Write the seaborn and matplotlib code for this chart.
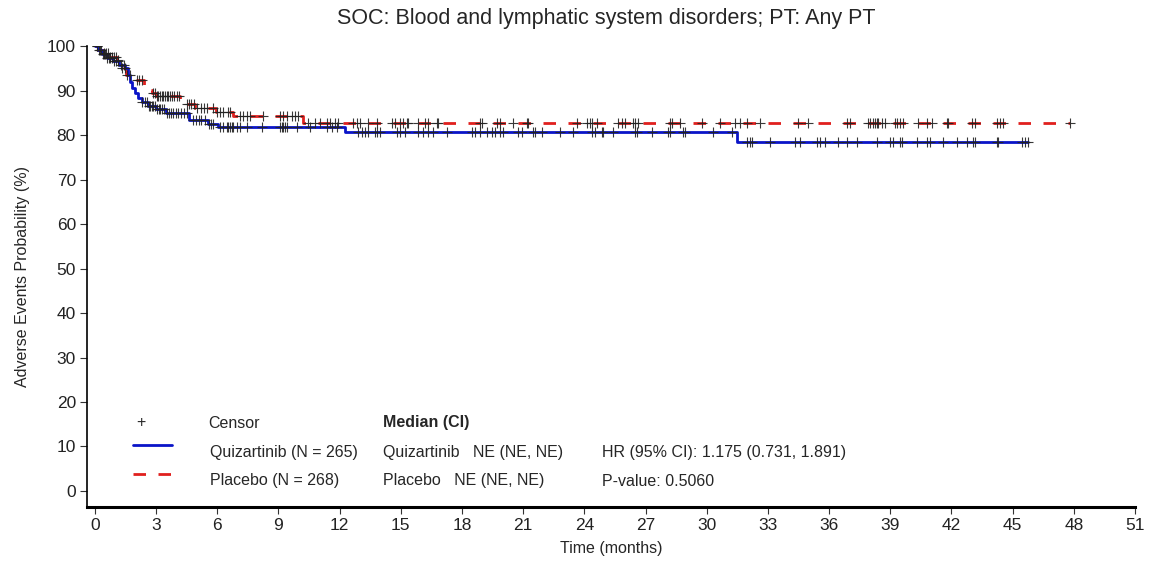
import numpy as np
import pandas as pd
import matplotlib
matplotlib.use("Agg")
import matplotlib.pyplot as plt
import seaborn as sns
from matplotlib.lines import Line2D

sns.set_style("white")
plt.rcParams['font.family'] = ['Liberation Sans', 'DejaVu Sans']

# ---------------- data ----------------
title = "SOC: Blood and lymphatic system disorders; PT: Any PT"
arm_names = ["Quizartinib", "Placebo"]
arm_n = [265, 268]

# Quizartinib step curve (time in months, probability %)
quiz_t = [0, 0.15, 0.35, 0.6, 0.9, 1.2, 1.45, 1.6, 1.7, 1.8, 1.95, 2.1, 2.3, 2.6,
          3.0, 3.5, 4.6, 5.55, 6.05, 12.25, 31.5]
quiz_v = [100, 99.2, 98.2, 97.4, 96.6, 95.8, 95.0, 93.4, 92.0, 90.6, 89.4, 88.3, 87.4, 86.6,
          85.8, 85.0, 83.5, 82.5, 81.9, 80.7, 78.5]
quiz_end = 45.76

# Placebo step curve
plac_t = [0, 0.15, 0.4, 0.7, 1.1, 1.3, 1.5, 1.8, 2.4, 2.6, 2.8, 3.0, 4.15, 4.9, 5.95, 6.75, 10.2]
plac_v = [100, 99.2, 98.4, 97.6, 96.8, 95.0, 93.6, 92.4, 91.2, 90.2, 89.4, 88.8, 87.0, 86.2,
          85.2, 84.2, 82.8]
plac_end = 47.82

# censor times
quiz_cens = [0.1, 0.2, 0.3, 0.4, 0.45, 0.5, 0.6, 0.7, 0.75, 0.85, 0.95, 1.05, 1.15, 1.3, 1.4,
             2.3, 2.45, 2.55, 2.65, 2.7, 2.8, 2.85, 2.95, 3.05, 3.15, 3.2, 3.3, 3.4,
             3.55, 3.65, 3.75, 3.85, 3.95, 4.05, 4.2, 4.35, 4.5, 4.8, 4.95, 5.1, 5.2, 5.4,
             5.6, 5.7, 5.8,
             6.13, 6.28, 6.47, 6.52, 6.62, 6.72, 6.77, 6.96, 7.11, 7.45, 8.19, 9.07, 9.17,
             9.22, 9.32, 9.42, 9.91, 10.54, 11.38, 11.62, 11.87,
             12.9, 13.1, 13.24, 13.39, 13.73, 13.83, 13.98, 14.81, 14.96, 15.2, 15.84, 16.09,
             16.33, 16.57, 17.26, 18.49, 18.64, 18.88, 19.22, 19.47, 19.62, 19.86, 20.0,
             20.75, 20.94, 21.48, 21.58, 21.92, 22.81, 23.44, 24.37, 24.52, 24.86, 24.91,
             25.4, 26.48, 26.58, 27.32, 28.1, 28.2, 28.84, 28.94, 30.31, 31.24,
             31.98, 32.12, 32.22, 33.1, 34.33, 34.58, 35.41, 35.56, 35.8, 36.44, 36.88,
             37.37, 38.35, 38.99, 39.14, 39.48, 39.58, 40.31, 40.8, 40.95, 41.59, 42.28,
             42.77, 43.06, 43.16, 44.24, 44.29, 45.46, 45.61, 45.76]
plac_cens = [0.1, 0.25, 0.45, 0.55, 0.65, 0.75, 0.85, 0.95, 1.05, 1.15, 1.35, 1.45, 1.55, 1.7,
             2.05, 2.15, 2.3, 2.85, 2.95, 3.05, 3.1, 3.2, 3.3, 3.35, 3.45, 3.55, 3.6, 3.7,
             3.8, 3.9, 4.0, 4.1, 4.5, 4.6, 4.7, 4.85, 5.0, 5.2, 5.35, 5.5, 5.79,
             5.98, 6.13, 6.28, 6.52, 6.62, 7.11, 7.26, 7.45, 7.6, 8.24, 9.07, 9.22, 9.42,
             9.66, 9.81, 9.96,
             10.45, 10.79, 11.03, 11.38, 11.53, 11.77, 11.92, 12.65, 12.85, 13.0, 13.39,
             13.83, 14.57, 14.71, 14.96, 15.11, 15.3, 15.35, 15.84, 16.18, 16.33, 16.77,
             16.82, 18.88, 18.98, 19.72, 19.86, 20.5, 21.19, 21.24, 23.64, 24.13, 24.28,
             24.37, 24.62, 25.65, 25.85, 26.0, 26.39, 26.48, 26.63, 28.2, 28.3, 28.69,
             29.77, 30.65, 31.39, 31.63, 31.98, 32.61, 34.48, 34.97, 36.88, 37.03, 37.91,
             38.0, 38.16, 38.25, 38.35, 38.4, 38.6, 38.74, 39.24, 39.33, 39.48, 39.63,
             40.36, 40.8, 41.05, 41.79, 41.84, 43.01, 43.16, 44.24, 44.38, 44.53, 47.82]

median_rows = ["Quizartinib   NE (NE, NE)", "Placebo   NE (NE, NE)"]
stat_rows = ["HR (95% CI): 1.175 (0.731, 1.891)", "P-value: 0.5060"]

x_ticks = list(range(0, 52, 3))
y_ticks = list(range(0, 101, 10))

# ---------------- helpers ----------------
def curve_df(t, v, end):
    tt = list(t) + [end]
    vv = list(v) + [v[-1]]
    return pd.DataFrame({"t": tt, "v": vv})

def cens_df(t, v, ct):
    t = np.asarray(t); v = np.asarray(v); ct = np.asarray(ct)
    idx = np.searchsorted(t, ct, side="right") - 1
    return pd.DataFrame({"t": ct, "v": v[idx]})

# ---------------- figure ----------------
fig = plt.figure(figsize=(11.54, 5.62), dpi=100)
ax = fig.add_axes([0.0754, 0.0979, 0.9081, 0.8200])

blue = "#0a14c8"
red = "#e0201e"

sns.lineplot(data=curve_df(plac_t, plac_v, plac_end), x="t", y="v", ax=ax,
             estimator=None, sort=False, drawstyle="steps-post", color=red,
             linewidth=2.0, dashes=False, linestyle=(0, (4.5, 4.5)))
sns.lineplot(data=curve_df(quiz_t, quiz_v, quiz_end), x="t", y="v", ax=ax,
             estimator=None, sort=False, drawstyle="steps-post", color=blue,
             linewidth=2.0)

for t, v, c in [(quiz_t, quiz_v, quiz_cens), (plac_t, plac_v, plac_cens)]:
    d = cens_df(t, v, c)
    ax.plot(d["t"], d["v"], linestyle="none", marker="+", color="#222222",
            markersize=7.5, markeredgewidth=0.8, alpha=0.9)

ax.set_xlim(-0.39, 51)
ax.set_ylim(-3.6, 100)
ax.set_xticks(x_ticks)
ax.set_yticks(y_ticks)
ax.tick_params(axis="both", which="major", direction="out", length=5, width=0.8,
               labelsize=12.5, color="#333333", labelcolor="#222222", pad=3,
               bottom=True, left=True)
for s in ["top", "right"]:
    ax.spines[s].set_visible(False)
ax.spines["left"].set_linewidth(1.2)
ax.spines["bottom"].set_linewidth(2.2)
ax.spines["left"].set_color("black")
ax.spines["bottom"].set_color("black")
ax.set_xlabel("Time (months)", fontsize=11.5, labelpad=6)
ax.set_ylabel("Adverse Events Probability (%)", fontsize=11.5, labelpad=12)
fig.suptitle(title, x=0.525, y=0.985, fontsize=15.5)

# ---------------- legend block (figure pixel coords) ----------------
W, H = 1154, 562
def fx(px): return px / W
def fy(py): return 1 - py / H

fs = 11.5
fig.text(fx(141), fy(423), "+", fontsize=fs, ha="center", va="center")
fig.text(fx(208), fy(423), "Censor", fontsize=fs, va="center")
fig.text(fx(383), fy(423), "Median (CI)", fontsize=fs, va="center", fontweight="bold")
fig.add_artist(Line2D([fx(133), fx(172)], [fy(445), fy(445)], color=blue, linewidth=2.0))
fig.add_artist(Line2D([fx(133), fx(172)], [fy(474), fy(474)], color=red, linewidth=2.0,
                      linestyle=(0, (4.5, 4.5))))
fig.text(fx(210), fy(453), f"{arm_names[0]} (N = {arm_n[0]})", fontsize=fs, va="center")
fig.text(fx(210), fy(481), f"{arm_names[1]} (N = {arm_n[1]})", fontsize=fs, va="center")
fig.text(fx(383), fy(453), median_rows[0], fontsize=fs, va="center")
fig.text(fx(383), fy(481), median_rows[1], fontsize=fs, va="center")
fig.text(fx(602), fy(453), stat_rows[0], fontsize=fs, va="center")
fig.text(fx(602), fy(481), stat_rows[1], fontsize=fs, va="center")

fig.savefig("out.png", dpi=100)
